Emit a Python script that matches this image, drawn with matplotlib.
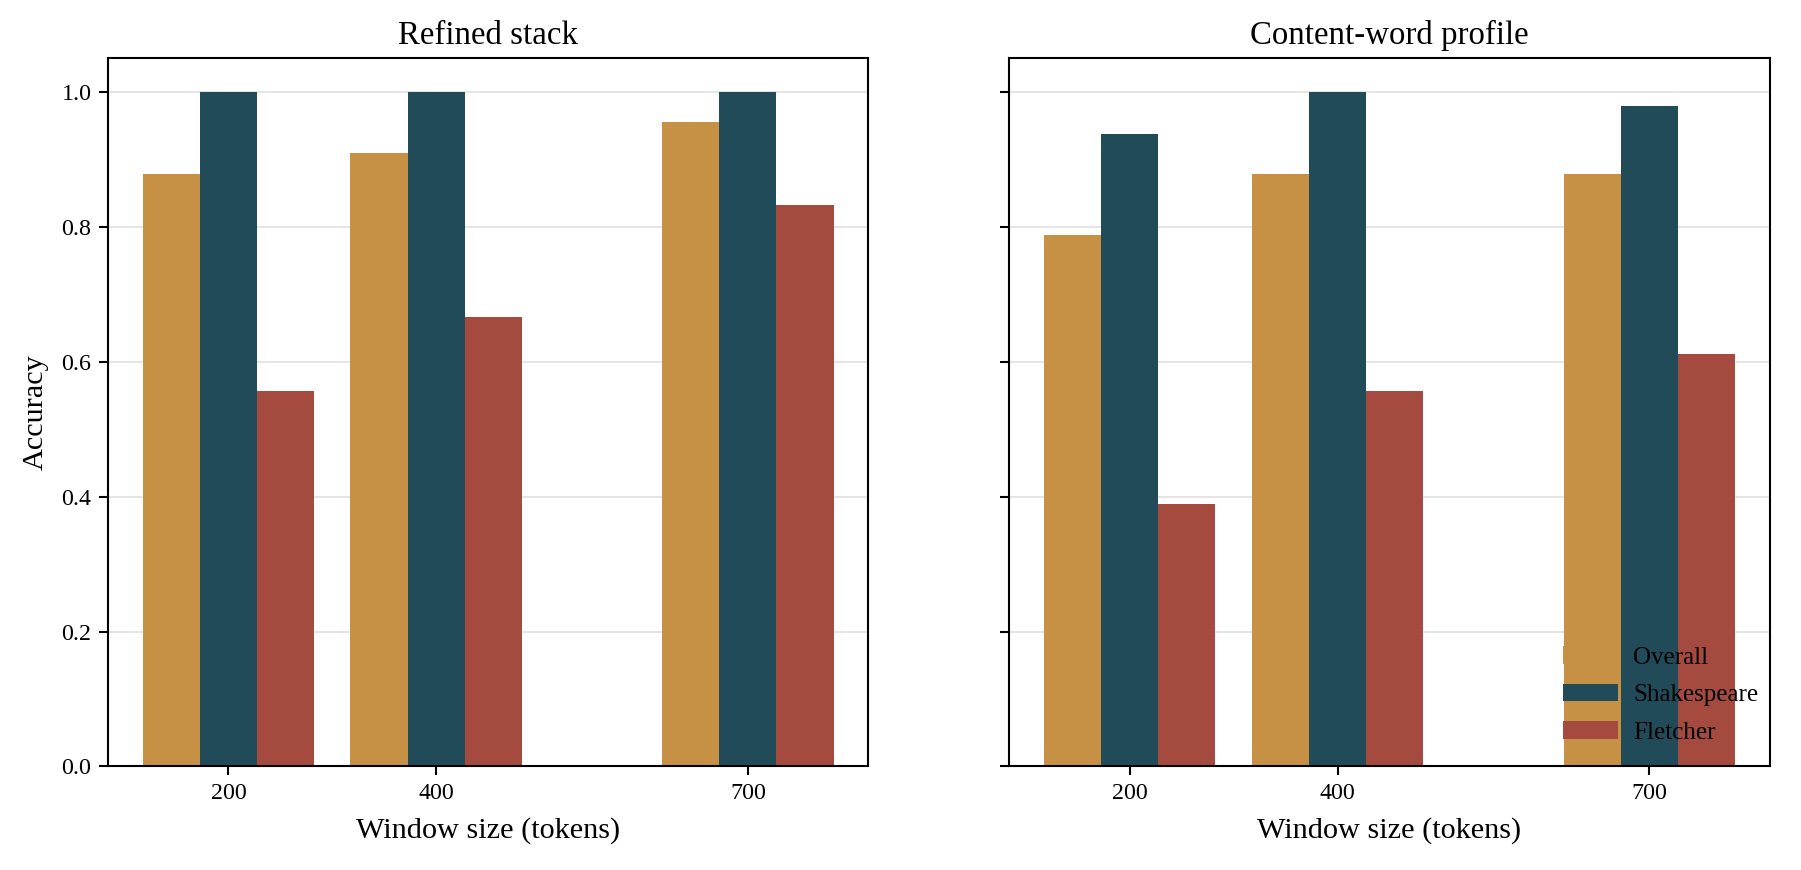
import numpy as np
import matplotlib
matplotlib.use("Agg")
import matplotlib.pyplot as plt

plt.rcParams["font.family"] = ["Liberation Serif", "DejaVu Serif"]

# ----- DATA -----
window_sizes = [200, 400, 700]
series_names = ["Overall", "Shakespeare", "Fletcher"]

refined_overall = [0.879, 0.909, 0.955]
refined_shakespeare = [1.0, 1.0, 1.0]
refined_fletcher = [0.556, 0.667, 0.833]

content_overall = [0.788, 0.879, 0.879]
content_shakespeare = [0.938, 1.0, 0.979]
content_fletcher = [0.389, 0.556, 0.611]

panels = [
    ("Refined stack", [refined_overall, refined_shakespeare, refined_fletcher]),
    ("Content-word profile", [content_overall, content_shakespeare, content_fletcher]),
]

colors = ["#C69145", "#224B5A", "#A44A3F"]
BAR_W = 55

# ----- PLOT -----
fig, axes = plt.subplots(1, 2, figsize=(12.013, 5.8), dpi=150, sharey=True)
fig.subplots_adjust(left=0.060, right=0.982, top=0.933, bottom=0.119, wspace=0.186)

x = np.array(window_sizes)
for ax, (title, series) in zip(axes, panels):
    for i, (name, vals) in enumerate(zip(series_names, series)):
        ax.bar(x + (i - 1) * BAR_W, vals, width=BAR_W, color=colors[i],
               label=name, zorder=2)
    ax.set_title(title, fontsize=15.8, pad=7)
    ax.set_xlabel("Window size (tokens)", fontsize=14.5, labelpad=6)
    ax.set_xticks(window_sizes)
    ax.set_ylim(0, 1.05)
    ax.set_yticks(np.arange(0, 1.01, 0.2))
    ax.yaxis.grid(True, color="#e0e0e0", linewidth=0.8, zorder=0)
    ax.set_axisbelow(True)
    ax.tick_params(labelsize=11.5, length=4.5, width=1.0)
    for sp in ax.spines.values():
        sp.set_linewidth(1.0)

axes[0].set_ylabel("Accuracy", fontsize=14.5, labelpad=6)
axes[1].legend(loc="lower right", bbox_to_anchor=(1.015, 0.0), frameon=False,
               fontsize=12, handlelength=2.2, handletextpad=0.6, labelspacing=0.6)

plt.savefig("out.png", dpi=150)
